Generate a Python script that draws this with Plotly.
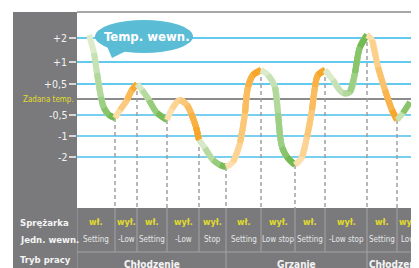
import plotly.graph_objects as go

# ---------------- data ----------------
tick_vals = [61, 37, 15, 0, -16, -37, -58]
tick_text = ["+2", "+1", "+0,5", "Zadana temp.", "-0,5", "-1", "-2"]

# switching times (where compressor / mode changes)
switch_t = [38, 60, 90, 122, 149, 184, 218, 248, 290, 320]

# curve points per segment (time, temperature level)
seg1_t = [12, 17, 20, 24, 27, 32, 38]
seg1_v = [64, 46, 26, 2, -9, -16, -19]
seg2_t = [38, 43, 50, 55, 60]
seg2_v = [-19, -11, -1, 9, 15]
seg3_t = [60, 65, 72, 80, 90]
seg3_v = [15, 9, -1, -14, -21]
seg4_t = [90, 95, 103, 110, 114, 119, 122]
seg4_v = [-21, -10, -1, -6, -14, -28, -41]
seg5_t = [122, 128, 136, 143, 149]
seg5_v = [-41, -49, -61, -66, -68]
seg6_t = [149, 156, 163, 168, 171, 176, 184]
seg6_v = [-68, -63, -44, -14, 12, 24, 29]
seg7_t = [184, 191, 198, 201, 205, 210, 218]
seg7_v = [29, 24, 12, -14, -48, -58, -66]
seg8_t = [218, 225, 230, 235, 238, 241, 248]
seg8_v = [-66, -58, -38, -11, 12, 24, 29]
seg9_t = [248, 256, 266, 273, 278, 283, 290]
seg9_v = [29, 19, 6, 7, 26, 52, 64]
seg10_t = [290, 295, 301, 308, 315, 320]
seg10_v = [64, 59, 32, 9, -11, -21]
seg11_t = [320, 326, 333]
seg11_v = [-21, -14, -3]

seg_kind = ["g", "o", "g", "o", "g", "o", "g", "o", "g", "o", "g"]

compressor = ["wł.", "wył.", "wł.", "wył.", "wył.", "wł.", "wył.", "wł.", "wył.", "wł.", "wył."]
indoor_unit = ["Setting", "-Low", "Setting", "-Low", "Stop", "Setting", "Low stop",
               "Setting", "-Low stop", "Setting", "Low"]
col_edges = [0] + switch_t + [342]

modes = ["Chłodzenie", "Grzanie", "Chłodzenie"]
mode_edges = [0, 149, 290, 350]

row_labels = ["Sprężarka", "Jedn. wewn.", "Tryb pracy"]

# ---------------- style ----------------
FONT = "DejaVu Sans Condensed, Liberation Sans Narrow, sans-serif"
GRAY = "#7a7a7c"
SEP = "#a3a3a5"
YEL = "#e3dc2c"
WHITE = "#f4f4f4"
G_LIGHT, G_DARK = (230, 240, 216), (104, 182, 70)
O_LIGHT, O_DARK = (254, 228, 186), (247, 160, 28)

Y_TOP_TABLE = -109
Y_ROWSEP = -153
Y_BOTTOM = -169
Y_TOP = 87


def mix(a, b, f):
    return "rgb(%d,%d,%d)" % tuple(round(a[i] + (b[i] - a[i]) * f) for i in range(3))


segments = [(seg1_t, seg1_v), (seg2_t, seg2_v), (seg3_t, seg3_v), (seg4_t, seg4_v),
            (seg5_t, seg5_v), (seg6_t, seg6_v), (seg7_t, seg7_v), (seg8_t, seg8_v),
            (seg9_t, seg9_v), (seg10_t, seg10_v), (seg11_t, seg11_v)]

fig = go.Figure()

# dashed drop lines at switching points
for i, t in enumerate(switch_t):
    v_end = segments[i][1][-1]
    fig.add_trace(go.Scatter(x=[t, t], y=[v_end, Y_TOP_TABLE], mode="lines",
                             line=dict(color="#9a9a9a", width=1.4, dash="4px,3px"),
                             hoverinfo="skip", showlegend=False))

# gradient curve segments (overlaid sub-paths, light -> dark)
for (ts, vs), kind in zip(segments, seg_kind):
    lo, hi = (G_LIGHT, G_DARK) if kind == "g" else (O_LIGHT, O_DARK)
    n = len(ts)
    for k in range(n - 1):
        f = (k + 0.5) / (n - 1)
        fig.add_trace(go.Scatter(x=ts[k:], y=vs[k:], mode="lines",
                                 line=dict(color=mix(lo, hi, f), width=6, shape="spline",
                                           smoothing=1.0),
                                 hoverinfo="skip", showlegend=False))

shapes = []
# left panel
shapes.append(dict(type="rect", xref="paper", yref="paper", x0=-64 / 342, x1=0, y0=-0.05, y1=1,
                   fillcolor=GRAY, line_width=0, layer="below"))
# grid lines
for v in tick_vals:
    if v == 0:
        col, w = "#8c8c8c", 2
    elif v > 0:
        col, w = "#2fb8e8", 1.5
    else:
        col, w = "#78cff0", 2
    shapes.append(dict(type="line", xref="paper", yref="y", x0=0, x1=0.99, y0=v, y1=v,
                       line=dict(color=col, width=w), layer="below"))
# top border
shapes.append(dict(type="line", xref="paper", yref="paper", x0=0, x1=1, y0=1, y1=1,
                   line=dict(color="#8a8a8a", width=1.5), layer="below"))
# table background
shapes.append(dict(type="rect", xref="paper", yref="y", x0=0, x1=1.05, y0=Y_BOTTOM - 10,
                   y1=Y_TOP_TABLE, fillcolor=GRAY, line_width=0, layer="below"))
shapes.append(dict(type="line", xref="paper", yref="y", x0=0, x1=1, y0=Y_ROWSEP, y1=Y_ROWSEP,
                   line=dict(color=SEP, width=1), layer="below"))
for e in col_edges[:-1]:
    shapes.append(dict(type="line", xref="x", yref="y", x0=e, x1=e, y0=Y_TOP_TABLE,
                       y1=Y_ROWSEP, line=dict(color=SEP, width=1), layer="below"))
for e in mode_edges[:-1]:
    shapes.append(dict(type="line", xref="x", yref="y", x0=e, x1=e, y0=Y_ROWSEP,
                       y1=Y_BOTTOM, line=dict(color=SEP, width=1), layer="below"))
# speech bubble
shapes.append(dict(type="circle", xref="x", yref="y", x0=18, x1=116, y0=46, y1=79,
                   fillcolor="#5bbcd6", line_width=0, layer="above"))
shapes.append(dict(type="path", xref="x", yref="y", path="M 29,55 L 35,41 L 51,49 Z",
                   fillcolor="#5bbcd6", line_width=0, layer="above"))

ann = []
ann.append(dict(x=70, y=63, xref="x", yref="y", text="<b>Temp. wewn.</b>", showarrow=False,
                font=dict(family=FONT, size=13, color="white")))
# y labels
for v, txt in zip(tick_vals, tick_text):
    if v == 0:
        ann.append(dict(x=0, y=v, xref="paper", yref="y", text=txt, showarrow=False,
                        xanchor="right", xshift=-1, font=dict(family=FONT, size=8, color=YEL)))
    else:
        ann.append(dict(x=0, y=v, xref="paper", yref="y", text=txt, showarrow=False,
                        xanchor="right", xshift=-8, font=dict(family=FONT, size=10.5, color=WHITE)))
# row labels
for txt, v in zip(row_labels, [-123, -140, -160]):
    ann.append(dict(x=-59 / 342, y=v, xref="paper", yref="y", text="<b>%s</b>" % txt,
                    showarrow=False, xanchor="left", font=dict(family=FONT, size=9.5, color=WHITE)))
# table cells
for i in range(len(compressor)):
    c = (col_edges[i] + col_edges[i + 1]) / 2
    ann.append(dict(x=c, y=-123, xref="x", yref="y", text="<b>%s</b>" % compressor[i],
                    showarrow=False, font=dict(family=FONT, size=9, color=YEL)))
    ann.append(dict(x=c, y=-140, xref="x", yref="y", text=indoor_unit[i],
                    showarrow=False, font=dict(family=FONT, size=8, color="#e8e8e8")))
for i, m in enumerate(modes):
    c = (mode_edges[i] + mode_edges[i + 1]) / 2
    ann.append(dict(x=c, y=-165, xref="x", yref="y", text="<b>%s</b>" % m,
                    showarrow=False, font=dict(family=FONT, size=10, color=WHITE)))

# the page adds an 8px body margin, so the figure is offset by 8px
fig.update_layout(
    width=411, height=260,
    margin=dict(l=69, r=0, t=4, b=0),
    paper_bgcolor="white", plot_bgcolor="white",
    showlegend=False,
    shapes=shapes, annotations=ann,
    xaxis=dict(range=[0, 342], visible=False, fixedrange=True),
    yaxis=dict(range=[Y_BOTTOM, Y_TOP], showgrid=False, zeroline=False, showline=False,
               tickvals=[v for v in tick_vals if v != 0], ticks="outside", ticklen=7,
               tickwidth=1.5, tickcolor="#d8d8d8", showticklabels=False, fixedrange=True),
)

fig.write_html("out.html")
